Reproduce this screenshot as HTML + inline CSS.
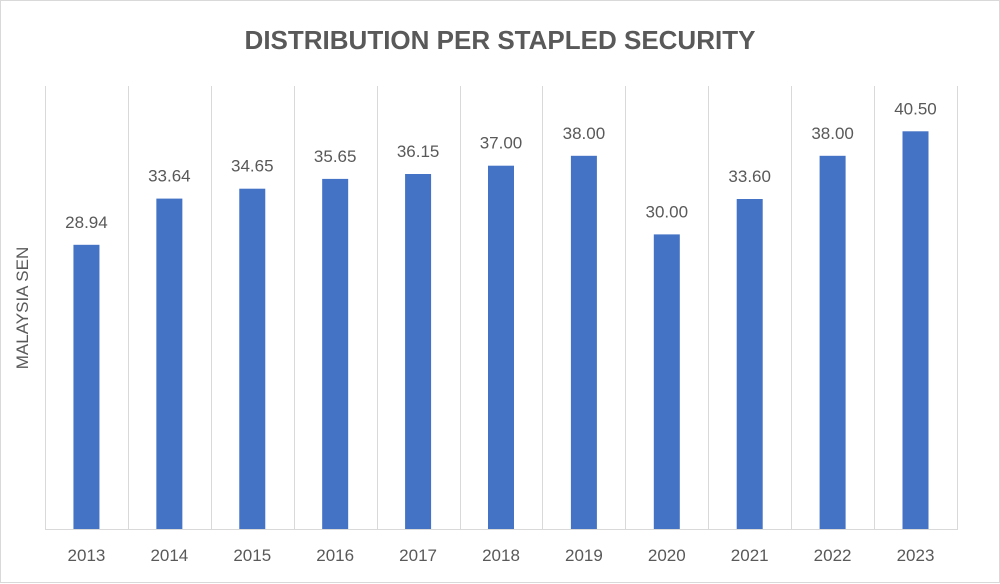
<!DOCTYPE html>
<html><head><meta charset="utf-8"><style>
html,body{margin:0;padding:0;background:#fff;}
svg{display:block;}
text{font-family:"Liberation Sans",sans-serif;fill:#595959;}
</style></head><body>
<svg width="1000" height="584" viewBox="0 0 1000 584">
<rect x="0.5" y="0.5" width="999" height="582" fill="#fff" stroke="#d9d9d9"/>
<text x="500" y="49" text-anchor="middle" font-size="26" font-weight="bold">DISTRIBUTION PER STAPLED SECURITY</text>
<text transform="translate(28,308) rotate(-90)" text-anchor="middle" font-size="17">MALAYSIA SEN</text>
<g stroke="#d9d9d9">
<line x1="45.5" y1="86" x2="45.5" y2="529"/>
<line x1="128.5" y1="86" x2="128.5" y2="529"/>
<line x1="211.5" y1="86" x2="211.5" y2="529"/>
<line x1="294.5" y1="86" x2="294.5" y2="529"/>
<line x1="377.5" y1="86" x2="377.5" y2="529"/>
<line x1="460.5" y1="86" x2="460.5" y2="529"/>
<line x1="542.5" y1="86" x2="542.5" y2="529"/>
<line x1="625.5" y1="86" x2="625.5" y2="529"/>
<line x1="708.5" y1="86" x2="708.5" y2="529"/>
<line x1="791.5" y1="86" x2="791.5" y2="529"/>
<line x1="874.5" y1="86" x2="874.5" y2="529"/>
<line x1="957.5" y1="86" x2="957.5" y2="529"/>
<line x1="45" y1="529.5" x2="958" y2="529.5"/>
</g>
<g fill="#4472c4">
<rect x="73.45" y="244.8" width="26" height="284.2"/>
<rect x="156.36" y="198.6" width="26" height="330.4"/>
<rect x="239.27" y="188.7" width="26" height="340.3"/>
<rect x="322.18" y="178.9" width="26" height="350.1"/>
<rect x="405.09" y="174.0" width="26" height="355"/>
<rect x="488" y="165.7" width="26" height="363.3"/>
<rect x="570.9" y="155.8" width="26" height="373.2"/>
<rect x="653.8" y="234.4" width="26" height="294.6"/>
<rect x="736.7" y="199.0" width="26" height="330"/>
<rect x="819.6" y="155.8" width="26" height="373.2"/>
<rect x="902.5" y="131.3" width="26" height="397.7"/>
</g>
<g font-size="17" text-anchor="middle">
<text x="86.45" y="227.8">28.94</text>
<text x="169.36" y="181.6">33.64</text>
<text x="252.27" y="171.7">34.65</text>
<text x="335.18" y="161.9">35.65</text>
<text x="418.09" y="157.0">36.15</text>
<text x="501" y="148.7">37.00</text>
<text x="583.9" y="138.8">38.00</text>
<text x="666.8" y="217.4">30.00</text>
<text x="749.7" y="182.0">33.60</text>
<text x="832.6" y="138.8">38.00</text>
<text x="915.5" y="114.3">40.50</text>
<text x="86.45" y="561">2013</text>
<text x="169.36" y="561">2014</text>
<text x="252.27" y="561">2015</text>
<text x="335.18" y="561">2016</text>
<text x="418.09" y="561">2017</text>
<text x="501" y="561">2018</text>
<text x="583.9" y="561">2019</text>
<text x="666.8" y="561">2020</text>
<text x="749.7" y="561">2021</text>
<text x="832.6" y="561">2022</text>
<text x="915.5" y="561">2023</text>
</g>
</svg>
</body></html>
